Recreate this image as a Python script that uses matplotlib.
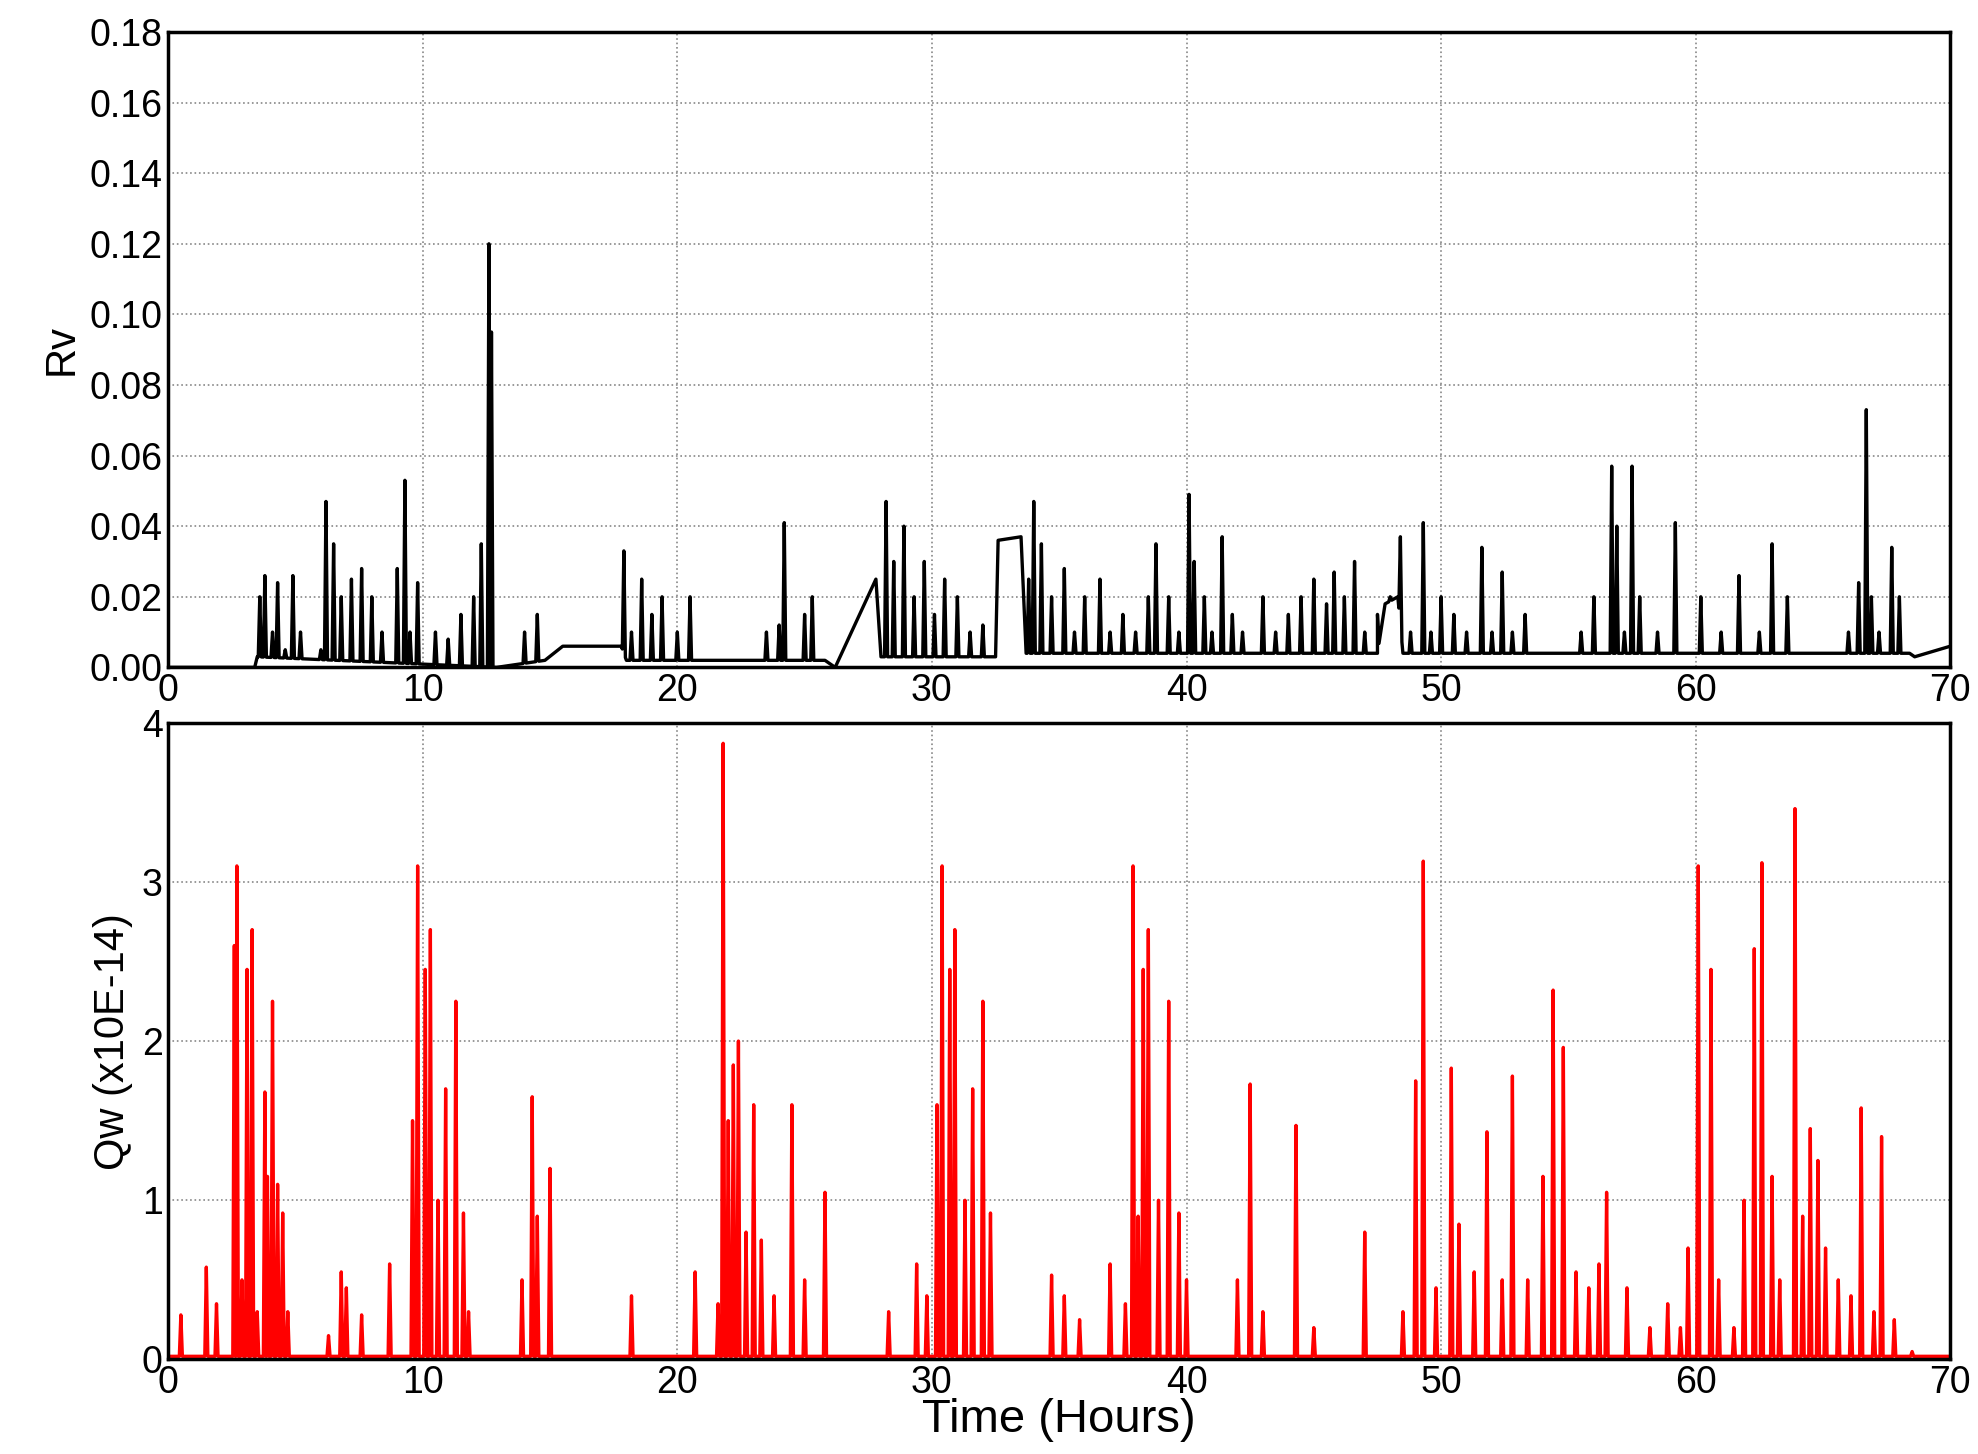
import numpy as np
import matplotlib.pyplot as plt

plt.rcParams['font.family'] = ['Liberation Sans', 'DejaVu Sans']

# Rv spikes (hours, value)
rv_t = [3.6, 3.8, 4.1, 4.3, 4.6, 4.9, 5.2, 6.0, 6.2, 6.5, 6.8, 7.2, 7.6, 8.0, 8.4, 9.0, 9.3, 9.5,
        9.8, 10.5, 11.0, 11.5, 12.0, 12.3, 12.6, 12.7, 14.0, 14.5, 17.9, 18.2, 18.6, 19.0, 19.4,
        20.0, 20.5, 23.5, 24.0, 24.2, 25.0, 25.3, 28.2, 28.5, 28.9, 29.3, 29.7, 30.1, 30.5, 31.0,
        31.5, 32.0, 33.8, 34.0, 34.3, 34.7, 35.2, 35.6, 36.0, 36.6, 37.0, 37.5, 38.0, 38.5, 38.8,
        39.3, 39.7, 40.1, 40.3, 40.7, 41.0, 41.4, 41.8, 42.2, 43.0, 43.5, 44.0, 44.5, 45.0, 45.5,
        45.8, 46.2, 46.6, 47.0, 47.5, 48.0, 48.4, 48.8, 49.3, 49.6, 50.0, 50.5, 51.0, 51.6, 52.0,
        52.4, 52.8, 53.3, 55.5, 56.0, 56.7, 56.9, 57.2, 57.5, 57.8, 58.5, 59.2, 60.2, 61.0, 61.7,
        62.5, 63.0, 63.6, 66.0, 66.4, 66.7, 66.9, 67.2, 67.7, 68.0]
rv_v = [0.020, 0.026, 0.010, 0.024, 0.005, 0.026, 0.010, 0.005, 0.047, 0.035, 0.020, 0.025, 0.028,
        0.020, 0.010, 0.028, 0.053, 0.010, 0.024, 0.010, 0.008, 0.015, 0.020, 0.035, 0.120, 0.095,
        0.010, 0.015, 0.033, 0.010, 0.025, 0.015, 0.020, 0.010, 0.020, 0.010, 0.012, 0.041, 0.015,
        0.020, 0.047, 0.030, 0.040, 0.020, 0.030, 0.015, 0.025, 0.020, 0.010, 0.012, 0.025, 0.047,
        0.035, 0.020, 0.028, 0.010, 0.020, 0.025, 0.010, 0.015, 0.010, 0.020, 0.035, 0.020, 0.010,
        0.049, 0.030, 0.020, 0.010, 0.037, 0.015, 0.010, 0.020, 0.010, 0.015, 0.020, 0.025, 0.018,
        0.027, 0.020, 0.030, 0.010, 0.015, 0.020, 0.037, 0.010, 0.041, 0.010, 0.020, 0.015, 0.010,
        0.034, 0.010, 0.027, 0.010, 0.015, 0.010, 0.020, 0.057, 0.040, 0.010, 0.057, 0.020, 0.010,
        0.041, 0.020, 0.010, 0.026, 0.010, 0.035, 0.020, 0.010, 0.024, 0.073, 0.020, 0.010, 0.034,
        0.020]
# Rv slow background level
rv_base_t = [0, 3.4, 3.5, 12.9, 14.8, 15.5, 17.8, 18.0, 25.8, 26.2, 27.8, 28.0, 32.5, 32.6, 33.5,
             33.7, 47.5, 47.8, 48.3, 48.5, 68.4, 68.6, 70]
rv_base_v = [0, 0, 0.003, 0.0, 0.002, 0.006, 0.006, 0.002, 0.002, 0.0, 0.025, 0.003, 0.003, 0.036,
             0.037, 0.004, 0.004, 0.018, 0.020, 0.004, 0.004, 0.003, 0.006]

# Qw spikes (hours, x10E-14)
qw_t = [0.5, 1.5, 1.9, 2.6, 2.7, 2.9, 3.1, 3.3, 3.5, 3.8, 3.9, 4.1, 4.3, 4.5, 4.7, 6.3, 6.8, 7.0,
        7.6, 8.7, 9.6, 9.8, 10.1, 10.3, 10.6, 10.9, 11.3, 11.6, 11.8, 13.9, 14.3, 14.5, 15.0, 18.2,
        20.7, 21.6, 21.8, 22.0, 22.2, 22.4, 22.7, 23.0, 23.3, 23.8, 24.5, 25.0, 25.8, 28.3, 29.4,
        29.8, 30.2, 30.4, 30.7, 30.9, 31.3, 31.6, 32.0, 32.3, 34.7, 35.2, 35.8, 37.0, 37.6, 37.9,
        38.1, 38.3, 38.5, 38.9, 39.3, 39.7, 40.0, 42.0, 42.5, 43.0, 44.3, 45.0, 47.0, 48.5, 49.0,
        49.3, 49.8, 50.4, 50.7, 51.3, 51.8, 52.4, 52.8, 53.4, 54.0, 54.4, 54.8, 55.3, 55.8, 56.2,
        56.5, 57.3, 58.2, 58.9, 59.4, 59.7, 60.1, 60.6, 60.9, 61.5, 61.9, 62.3, 62.6, 63.0, 63.3,
        63.9, 64.2, 64.5, 64.8, 65.1, 65.6, 66.1, 66.5, 67.0, 67.3, 67.8, 68.5]
qw_v = [0.28, 0.58, 0.35, 2.6, 3.1, 0.5, 2.45, 2.7, 0.3, 1.68, 1.15, 2.25, 1.1, 0.92, 0.3, 0.15,
        0.55, 0.45, 0.28, 0.6, 1.5, 3.1, 2.45, 2.7, 1.0, 1.7, 2.25, 0.92, 0.3, 0.5, 1.65, 0.9, 1.2,
        0.4, 0.55, 0.35, 3.87, 1.5, 1.85, 2.0, 0.8, 1.6, 0.75, 0.4, 1.6, 0.5, 1.05, 0.3, 0.6, 0.4,
        1.6, 3.1, 2.45, 2.7, 1.0, 1.7, 2.25, 0.92, 0.53, 0.4, 0.25, 0.6, 0.35, 3.1, 0.9, 2.45, 2.7,
        1.0, 2.25, 0.92, 0.5, 0.5, 1.73, 0.3, 1.47, 0.2, 0.8, 0.3, 1.75, 3.13, 0.45, 1.83, 0.85,
        0.55, 1.43, 0.5, 1.78, 0.5, 1.15, 2.32, 1.96, 0.55, 0.45, 0.6, 1.05, 0.45, 0.2, 0.35, 0.2,
        0.7, 3.1, 2.45, 0.5, 0.2, 1.0, 2.58, 3.12, 1.15, 0.5, 3.46, 0.9, 1.45, 1.25, 0.7, 0.5, 0.4,
        1.58, 0.3, 1.4, 0.25, 0.05]


def spike_trace(ts, vs, base_t, base_v, w=0.06):
    xs, ys = [], []
    for t, v in zip(ts, vs):
        xs += [t - w, t, t + w]
        ys += [np.interp(t - w, base_t, base_v), v, np.interp(t + w, base_t, base_v)]
    xs = np.concatenate([base_t, xs])
    ys = np.concatenate([base_v, ys])
    order = np.argsort(xs, kind='stable')
    return xs[order], ys[order]


fig = plt.figure(figsize=(19.78, 14.54), dpi=100)
ax1 = fig.add_axes([0.085, 0.541, 0.901, 0.437])
ax2 = fig.add_axes([0.085, 0.065, 0.901, 0.438])

x, y = spike_trace(rv_t, rv_v, rv_base_t, rv_base_v)
ax1.plot(x, y, color='black', lw=2.4)
ax1.set_ylim(0, 0.18)
ax1.set_yticks(np.arange(0, 0.181, 0.02))
ax1.set_yticklabels([f'{v:.2f}' for v in np.arange(0, 0.181, 0.02)])
ax1.set_ylabel('Rv', fontsize=30, labelpad=6)

x, y = spike_trace(qw_t, qw_v, [0, 70], [0.02, 0.02])
ax2.plot(x, y, color='#ff0000', lw=2.4)
ax2.set_ylim(0, 4)
ax2.set_yticks(range(5))
ax2.set_ylabel('Qw (x10E-14)', fontsize=30, labelpad=6)
ax2.set_xlabel('Time (Hours)', fontsize=34, labelpad=-2)

for ax in (ax1, ax2):
    ax.set_xlim(0, 70)
    ax.set_xticks(range(0, 71, 10))
    ax.grid(True, linestyle=':', color='#888888', lw=1.2)
    ax.tick_params(labelsize=27, length=0, pad=4)
    for s in ax.spines.values():
        s.set_linewidth(2.5)

fig.savefig('out.png', dpi=100)
